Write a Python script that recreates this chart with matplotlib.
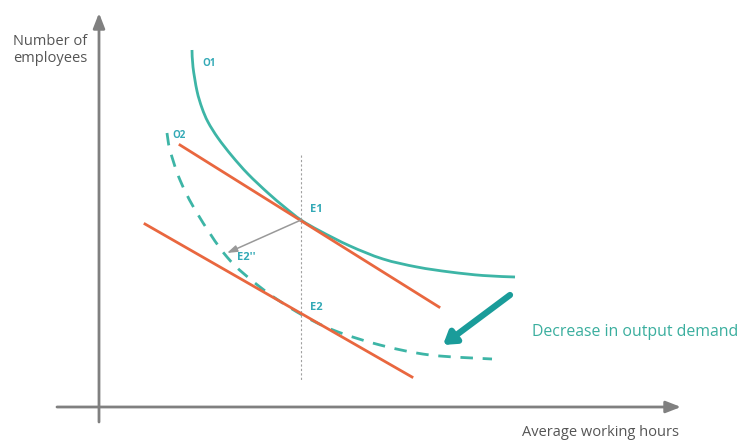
import matplotlib
matplotlib.use("Agg")
import matplotlib.pyplot as plt
from matplotlib.path import Path
from matplotlib.patches import PathPatch

plt.rcParams['font.family'] = ['Open Sans', 'DejaVu Sans']

# ---- data (hours on x, employees on y; origin at axes intersection) ----
o1_hours = [93, 94, 98, 103, 109, 119, 133, 149, 169, 186, 202, 221, 251, 284,
            318, 351, 384, 416]
o1_emp = [357, 340, 316, 299, 285, 269, 251, 233, 214, 199.5, 187, 176, 161,
          148, 140, 135, 131.5, 130]

o2_hours = [68, 71, 81, 98, 128, 161, 198, 234, 281, 331, 393]
o2_emp = [274, 257, 227, 194, 150, 120, 95, 77, 62, 52, 48]

line1_hours = [81, 340]
line1_emp = [262, 100]
line2_hours = [46, 313]
line2_emp = [183, 30]

e1 = (202, 187)
e2pp = (128, 154)
vline_hours = 202
vline_emp = [252, 27]
shift_from = (411, 112)
shift_to = (344, 62)

labels = ["O1", "O2", "E1", "E2''", "E2"]
label_pos = [(103, 343), (73, 272), (211, 198), (138, 149), (211, 100)]

TEAL = "#3db5a6"
LABEL = "#33a9b6"
ORANGE = "#e9673f"
AXIS = "#808080"


def smooth_path(xs, ys):
    """Catmull-Rom spline through the given points as cubic Bezier path."""
    pts = list(zip(xs, ys))
    verts = [pts[0]]
    codes = [Path.MOVETO]
    n = len(pts)
    for i in range(n - 1):
        p0 = pts[i - 1] if i > 0 else pts[i]
        p1 = pts[i]
        p2 = pts[i + 1]
        p3 = pts[i + 2] if i + 2 < n else pts[i + 1]
        c1 = (p1[0] + (p2[0] - p0[0]) / 6, p1[1] + (p2[1] - p0[1]) / 6)
        c2 = (p2[0] - (p3[0] - p1[0]) / 6, p2[1] - (p3[1] - p1[1]) / 6)
        verts += [c1, c2, p2]
        codes += [Path.CURVE4] * 3
    return Path(verts, codes)


fig = plt.figure(figsize=(7.41, 4.41), dpi=100)
ax = fig.add_axes([0, 0, 1, 1])
ax.set_xlim(-99, 642)
ax.set_ylim(-34, 407)
ax.axis('off')

# axes arrows
ax.annotate('', xy=(582, 0), xytext=(-42, 0),
            arrowprops=dict(arrowstyle='-|>,head_length=0.9,head_width=0.35',
                            color=AXIS, lw=2, shrinkA=0, shrinkB=0))
ax.annotate('', xy=(0, 394), xytext=(0, -15),
            arrowprops=dict(arrowstyle='-|>,head_length=0.9,head_width=0.35',
                            color=AXIS, lw=2, shrinkA=0, shrinkB=0))

# dotted vertical
ax.plot([vline_hours, vline_hours], vline_emp, color='#a0a0a0', lw=0.8,
        linestyle=(0, (2, 2)))

# curves
ax.add_patch(PathPatch(smooth_path(o1_hours, o1_emp), fill=False,
                       edgecolor=TEAL, lw=2))
ax.add_patch(PathPatch(smooth_path(o2_hours, o2_emp), fill=False,
                       edgecolor=TEAL, lw=2, linestyle=(0, (4.5, 3.5))))
ax.plot(line1_hours, line1_emp, color=ORANGE, lw=2)
ax.plot(line2_hours, line2_emp, color=ORANGE, lw=2)

# gray arrow
ax.annotate('', xy=e2pp, xytext=e1,
            arrowprops=dict(arrowstyle='-|>,head_length=0.6,head_width=0.2',
                            color='#999999', lw=1.1, shrinkA=0, shrinkB=0))

# teal shift arrow
ax.annotate('', xy=shift_to, xytext=shift_from,
            arrowprops=dict(arrowstyle='-|>,head_length=0.7,head_width=0.45',
                            color='#1a9c9a', lw=4.5, shrinkA=0, shrinkB=0))

for t, (x, y) in zip(labels, label_pos):
    fs = 7 if t.startswith('O') else 8
    ax.text(x, y, t, color=LABEL, fontsize=fs, fontweight='bold',
            ha='left', va='center')

ax.text(433, 75, "Decrease in output demand", color="#3aae9e", fontsize=11.4,
        ha='left', va='center')
ax.text(-86, 357, "Number of\nemployees", color="#555555", fontsize=10.5,
        ha='left', va='center', linespacing=1.2)
ax.text(423, -26, "Average working hours", color="#555555", fontsize=10.5,
        ha='left', va='center')

fig.savefig("out.png", dpi=100)
